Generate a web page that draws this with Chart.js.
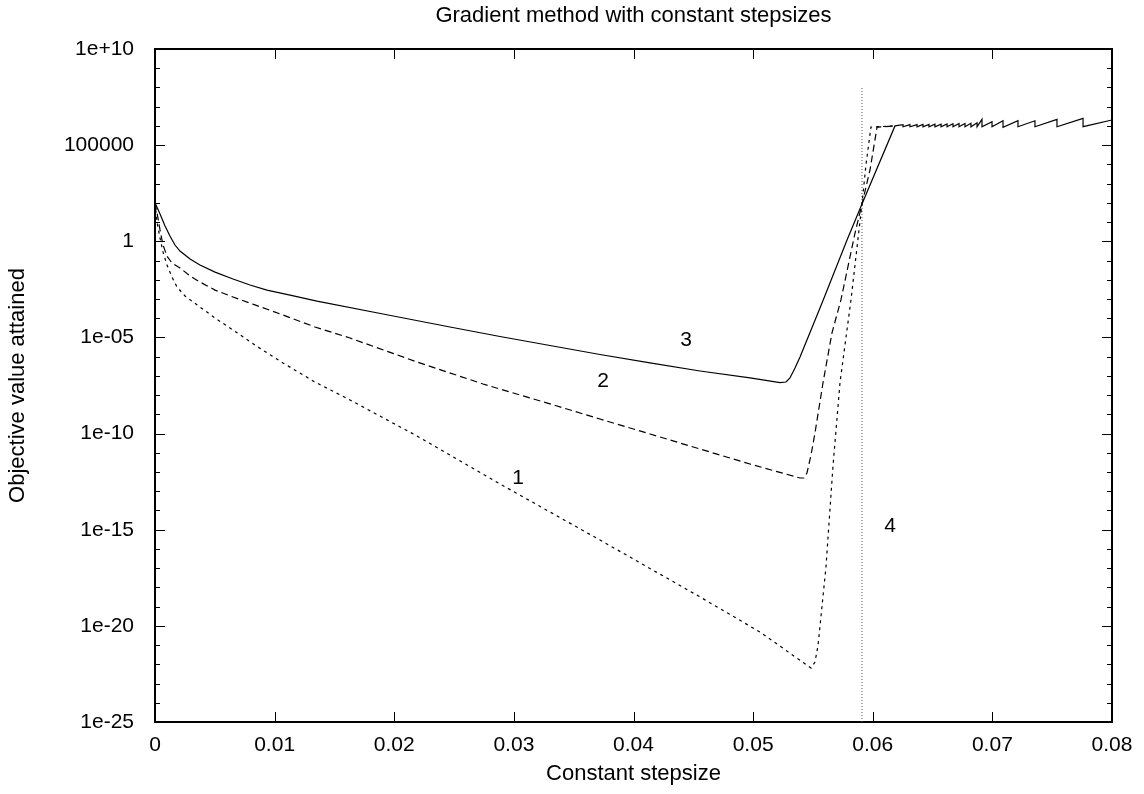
<!DOCTYPE html>
<html>
<head>
<meta charset="utf-8">
<title>Gradient method with constant stepsizes</title>
<script src="https://cdn.jsdelivr.net/npm/chart.js@4.4.0/dist/chart.umd.min.js"></script>
<style>
  body { margin: 0; background: #fff; }
</style>
</head>
<body>
<canvas id="chart" width="1144" height="794"></canvas>
<script>
// values: stepsize (x) against objective value (y)

// curve 1 (short dashes)
const steps1 = [0, 0.00017, 0.00042, 0.00067, 0.00100, 0.00142, 0.00184, 0.00251, 0.00376, 0.00502,
                0.00652, 0.00836, 0.01070, 0.01337, 0.01630, 0.02190, 0.02884, 0.03720, 0.04556, 0.05057,
                0.05484, 0.05517, 0.05543, 0.05609, 0.05667, 0.05726, 0.05818, 0.05910, 0.05943, 0.05985,
                0.06186];
const objective1 = [100, 10, 1.48, 0.28, 0.058, 0.0139, 4.2e-3, 1.43e-3, 3.8e-4, 1.02e-4,
                    2.43e-5, 4.0e-6, 4.7e-7, 4.8e-8, 5.6e-9, 7.5e-11, 2.4e-13, 2.9e-16, 3.2e-19, 4.8e-21,
                    6.4e-23, 1.3e-22, 1.0e-21, 1.15e-17, 1.8e-12, 4.3e-8, 8.9e-4, 87, 9.3e3, 8.7e5,
                    1.0e6];

// curve 2 (long dashes)
const steps2 = [0, 0.00025, 0.00042, 0.00067, 0.00100, 0.00142, 0.00209, 0.00293, 0.00376, 0.00502,
                0.00652, 0.00836, 0.01070, 0.01337, 0.01630, 0.02190, 0.02742, 0.03302, 0.03720, 0.04138,
                0.04556, 0.04974, 0.05392, 0.05425, 0.05450, 0.05484, 0.05517, 0.05584, 0.05659, 0.05734,
                0.05852, 0.05910, 0.05977, 0.06036, 0.06186];
const objective2 = [100, 16, 3.9, 0.64, 0.17, 0.074, 0.041, 0.0157, 7.6e-3, 2.9e-3,
                    1.27e-3, 4.9e-4, 1.47e-4, 3.5e-5, 9.3e-6, 5.3e-7, 3.8e-8, 3.5e-9, 5.7e-10, 9.5e-11,
                    1.58e-11, 2.6e-12, 4.9e-13, 4.9e-13, 8.9e-13, 7.7e-12, 1.07e-10, 4.3e-8, 1.7e-5, 8.9e-4,
                    2.7, 87, 5.1e3, 8.7e5, 1.0e6];

// curve 3 (solid), with the saw teeth on the plateau
const steps3 = [0, 0.00042, 0.00084, 0.00125, 0.00167, 0.00209, 0.00293, 0.00376, 0.00502, 0.00652,
                0.00794, 0.00936, 0.01129, 0.01354, 0.01906, 0.02466, 0.02884, 0.03302, 0.03720, 0.04138,
                0.04556, 0.04974, 0.05225, 0.05275, 0.05308, 0.05350, 0.05392, 0.05576, 0.05785, 0.05910,
                0.06186,
                0.06253, 0.06253, 0.06311, 0.06311, 0.06370, 0.06370, 0.06420, 0.06420, 0.06470, 0.06470,
                0.06520, 0.06520, 0.06571, 0.06571, 0.06621, 0.06621, 0.06671, 0.06671, 0.06721, 0.06721,
                0.06771, 0.06771, 0.06821, 0.06821, 0.06872, 0.06872, 0.06913, 0.06913, 0.06997, 0.06997,
                0.07089, 0.07089, 0.07214, 0.07214, 0.07356, 0.07356, 0.07540, 0.07540, 0.07758, 0.07758,
                0.08];
const objective3 = [100, 26, 6.2, 1.88, 0.64, 0.31, 0.12, 0.058, 0.025, 0.0109,
                    5.3e-3, 2.9e-3, 1.6e-3, 7.8e-4, 1.65e-4, 3.5e-5, 1.12e-5, 3.8e-6, 1.29e-6, 4.7e-7,
                    1.8e-7, 7.8e-8, 4.5e-8, 4.8e-8, 7.8e-8, 2.6e-7, 9.5e-7, 6.2e-4, 1.17, 87,
                    1.0e6,
                    1.15e6, 9.0e5, 1.17e6, 9.0e5, 1.17e6, 9.0e5, 1.20e6, 9.0e5, 1.20e6, 9.0e5,
                    1.23e6, 9.0e5, 1.23e6, 9.0e5, 1.26e6, 9.0e5, 1.29e6, 9.0e5, 1.32e6, 9.0e5,
                    1.35e6, 9.0e5, 1.38e6, 9.0e5, 1.45e6, 9.0e5, 2.19e6, 9.1e5, 1.66e6, 9.1e5,
                    1.86e6, 8.5e5, 1.86e6, 9.1e5, 1.86e6, 9.1e5, 2.19e6, 9.1e5, 2.45e6, 9.1e5,
                    2.04e6];

// curve 4: vertical dotted line
const steps4 = [0.0591, 0.0591];
const objective4 = [1e-25, 1e8];

// curve numbers written inside the plot
const curveNames = ['1', '2', '3', '4'];
const nameX = [0.03035, 0.03745, 0.04439, 0.06144];
const nameY = [4.9e-13, 5.4e-8, 7.4e-6, 1.55e-15];

// axes
const xTicks = [0, 0.01, 0.02, 0.03, 0.04, 0.05, 0.06, 0.07, 0.08];
const xTickLabels = ['0', '0.01', '0.02', '0.03', '0.04', '0.05', '0.06', '0.07', '0.08'];
const yTicks = [1e-25, 1e-20, 1e-15, 1e-10, 1e-5, 1, 1e5, 1e10];
const yTickLabels = ['1e-25', '1e-20', '1e-15', '1e-10', '1e-05', '1', '100000', '1e+10'];

const FONT = '"Liberation Sans", Arial, sans-serif';
const TEXT = 21;
const TITLE = 22;

function toPoints(xs, ys) {
    return xs.map((x, i) => ({ x: x, y: ys[i] }));
}

// gnuplot style: tick marks inside the frame, plus the curve numbers
const gnuplotTicks = {
    id: 'gnuplotTicks',
    afterDatasetsDraw(chart) {
        const { ctx, chartArea: a, scales } = chart;
        ctx.save();
        ctx.strokeStyle = '#000';
        ctx.lineWidth = 1;
        ctx.beginPath();
        xTicks.forEach(v => {
            const px = Math.round(scales.x.getPixelForValue(v)) + 0.5;
            ctx.moveTo(px, a.bottom); ctx.lineTo(px, a.bottom - 10);
            ctx.moveTo(px, a.top); ctx.lineTo(px, a.top + 10);
        });
        for (let e = -25; e <= 10; e++) {
            const len = (e % 5 === 0) ? 10 : 5;
            const py = Math.round(scales.y.getPixelForValue(Math.pow(10, e))) + 0.5;
            ctx.moveTo(a.left, py); ctx.lineTo(a.left + len, py);
            ctx.moveTo(a.right, py); ctx.lineTo(a.right - len, py);
        }
        ctx.stroke();

        ctx.fillStyle = '#000';
        ctx.font = TEXT + 'px ' + FONT;
        ctx.textAlign = 'center';
        ctx.textBaseline = 'middle';
        curveNames.forEach((t, i) => {
            ctx.fillText(t, scales.x.getPixelForValue(nameX[i]), scales.y.getPixelForValue(nameY[i]));
        });
        ctx.restore();
    }
};

const frame = { display: true, color: '#000', width: 2 };
const noGrid = { display: false, drawTicks: false };

new Chart(document.getElementById('chart'), {
    type: 'scatter',
    data: {
        datasets: [
            { label: '3', data: toPoints(steps3, objective3), showLine: true, pointRadius: 0,
              borderColor: '#000', borderWidth: 1.2, tension: 0 },
            { label: '2', data: toPoints(steps2, objective2), showLine: true, pointRadius: 0,
              borderColor: '#000', borderWidth: 1.2, borderDash: [7, 4], tension: 0 },
            { label: '1', data: toPoints(steps1, objective1), showLine: true, pointRadius: 0,
              borderColor: '#000', borderWidth: 1.2, borderDash: [3, 4], tension: 0 },
            { label: '4', data: toPoints(steps4, objective4), showLine: true, pointRadius: 0,
              borderColor: '#555', borderWidth: 1, borderDash: [1, 2], tension: 0 }
        ]
    },
    options: {
        responsive: false,
        animation: false,
        layout: { padding: 0 },
        plugins: { legend: { display: false }, tooltip: { enabled: false } },
        scales: {
            x: {
                type: 'linear', position: 'bottom', min: 0, max: 0.08,
                afterFit: s => { s.height = 72; },
                afterBuildTicks: s => { s.ticks = xTicks.map(v => ({ value: v })); },
                ticks: { callback: (v, i) => xTickLabels[i], autoSkip: false, maxRotation: 0,
                         padding: 11, color: '#000', font: { family: FONT, size: TEXT } },
                grid: noGrid, border: frame,
                title: { display: true, text: 'Constant stepsize', color: '#000',
                         font: { family: FONT, size: TITLE }, padding: { top: 0, bottom: 7 } }
            },
            x2: {
                type: 'linear', position: 'top', min: 0, max: 0.08,
                afterFit: s => { s.height = 49; },
                ticks: { display: false },
                grid: noGrid, border: frame,
                title: { display: true, text: 'Gradient method with constant stepsizes', color: '#000',
                         font: { family: FONT, size: TITLE }, padding: { top: 3, bottom: 0 } }
            },
            y: {
                type: 'logarithmic', position: 'left', min: 1e-25, max: 1e10,
                afterFit: s => { s.width = 155; },
                afterBuildTicks: s => { s.ticks = yTicks.map(v => ({ value: v })); },
                ticks: { callback: (v, i) => yTickLabels[i], autoSkip: false,
                         padding: 21, color: '#000', font: { family: FONT, size: TEXT } },
                grid: noGrid, border: frame,
                title: { display: true, text: 'Objective value attained', color: '#000',
                         font: { family: FONT, size: TITLE }, padding: { top: 5, bottom: 0 } }
            },
            y2: {
                type: 'logarithmic', position: 'right', min: 1e-25, max: 1e10,
                afterFit: s => { s.width = 32; },
                ticks: { display: false },
                grid: noGrid, border: frame
            }
        }
    },
    plugins: [gnuplotTicks]
});
</script>
</body>
</html>
